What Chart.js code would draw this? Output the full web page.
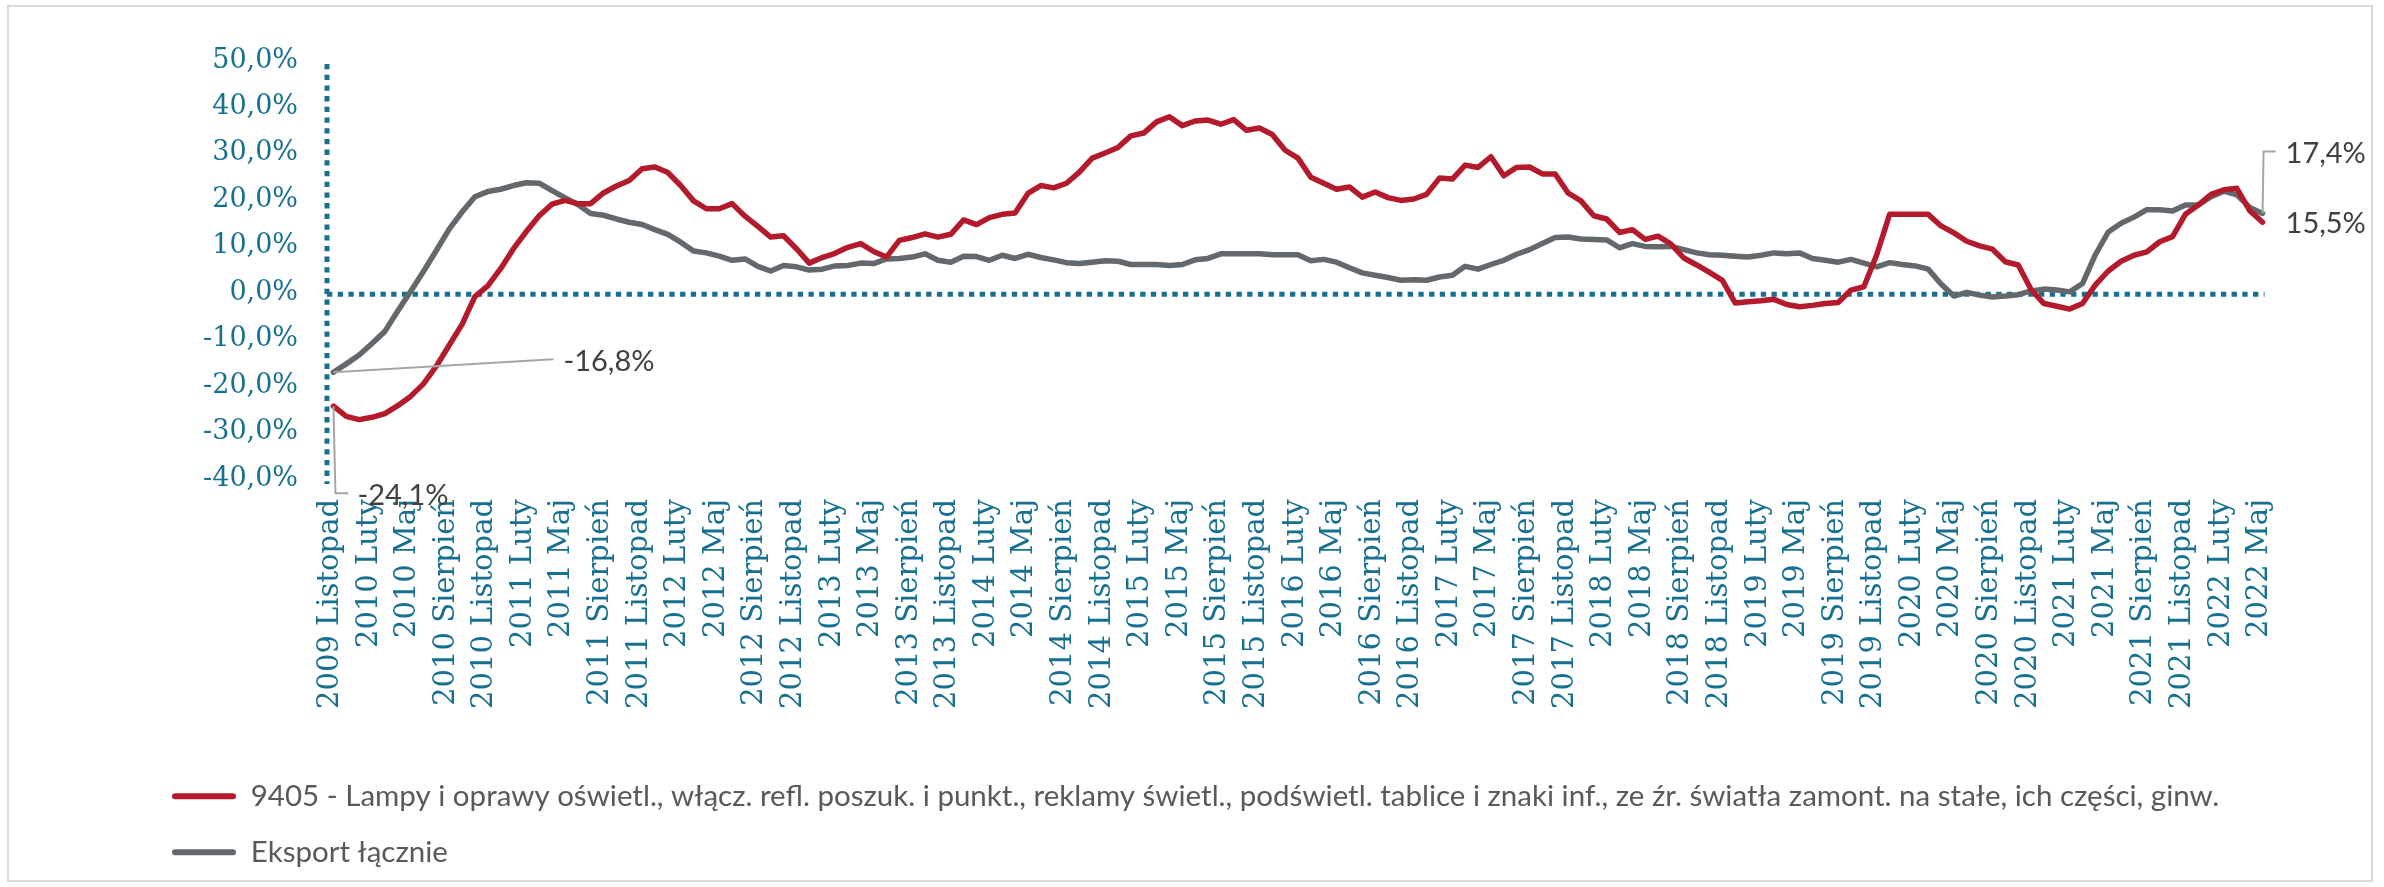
<!DOCTYPE html>
<html>
<head>
<meta charset="utf-8">
<script src="https://cdn.jsdelivr.net/npm/chart.js@4.4.1/dist/chart.umd.min.js"></script>
<style>
  html, body { margin: 0; padding: 0; background: #ffffff; }
  #wrap { position: relative; width: 2384px; height: 887px; overflow: hidden; }
  #frame { position: absolute; left: 7px; top: 5px; width: 2366px; height: 877px; box-sizing: border-box; border: 2px solid #d9d9d9; }
  #c { position: absolute; left: 0; top: 0; }
</style>
</head>
<body>
<div id="wrap">
  <div id="frame"></div>
  <canvas id="c" width="2384" height="887"></canvas>
</div>
<script>
// ---- data ----
const monthNames = ['Styczeń','Luty','Marzec','Kwiecień','Maj','Czerwiec','Lipiec','Sierpień','Wrzesień','Październik','Listopad','Grudzień'];
const startYear = 2009;
const startMonth = 10; // Listopad
const monthCount = 151;
const tickEvery = 3;

const seriesNames = [
  '9405 - Lampy i oprawy oświetl., włącz. refl. poszuk. i punkt., reklamy świetl., podświetl. tablice i znaki inf., ze źr. światła zamont. na stałe, ich części, ginw.',
  'Eksport łącznie'
];

const lampSeries = [
  -24.1, -26.3, -27.0, -26.5, -25.7, -24.0, -22.0, -19.3, -15.5, -11.0,
  -6.5, -0.5, 1.8, 5.5, 9.8, 13.5, 16.9, 19.4, 20.2, 19.5,
  19.5, 21.8, 23.3, 24.5, 27.0, 27.4, 26.2, 23.4, 20.1, 18.4,
  18.4, 19.5, 16.8, 14.6, 12.3, 12.6, 9.8, 6.7, 7.9, 8.8,
  10.1, 10.9, 9.2, 8.0, 11.6, 12.2, 13.0, 12.3, 12.9, 16.0,
  15.0, 16.5, 17.2, 17.5, 21.7, 23.4, 22.9, 23.9, 26.3, 29.3,
  30.4, 31.6, 34.1, 34.7, 37.1, 38.2, 36.3, 37.3, 37.5, 36.6,
  37.6, 35.3, 35.8, 34.4, 31.0, 29.3, 25.2, 23.9, 22.6, 23.1,
  20.9, 22.0, 20.8, 20.2, 20.5, 21.5, 25.0, 24.8, 27.8, 27.3,
  29.6, 25.5, 27.3, 27.4, 25.9, 25.9, 21.8, 20.1, 16.9, 16.2,
  13.3, 13.9, 11.8, 12.5, 10.8, 7.8, 6.3, 4.7, 3.0, -1.9,
  -1.6, -1.4, -1.1, -2.2, -2.7, -2.4, -2.0, -1.8, 0.9, 1.6,
  8.5, 17.2, 17.2, 17.2, 17.2, 14.7, 13.2, 11.4, 10.4, 9.7,
  7.0, 6.3, 1.0, -2.0, -2.6, -3.2, -2.0, 2.0, 5.0, 7.1,
  8.4, 9.1, 11.3, 12.4, 17.2, 19.2, 21.5, 22.5, 22.8, 18.0,
  15.5
];

const exportSeries = [
  -16.8, -15.0, -13.1, -10.6, -8.0, -3.6, 0.6, 4.9, 9.4, 14.0,
  17.7, 21.0, 22.1, 22.6, 23.4, 24.0, 23.9, 22.3, 20.8, 19.3,
  17.4, 17.0, 16.2, 15.5, 15.0, 13.9, 12.9, 11.2, 9.3, 8.9,
  8.2, 7.3, 7.6, 6.0, 5.0, 6.2, 5.9, 5.2, 5.4, 6.1,
  6.2, 6.7, 6.6, 7.6, 7.7, 8.0, 8.7, 7.3, 6.9, 8.2,
  8.1, 7.3, 8.4, 7.7, 8.6, 7.9, 7.4, 6.8, 6.6, 6.9,
  7.2, 7.1, 6.4, 6.4, 6.4, 6.2, 6.4, 7.4, 7.7, 8.7,
  8.7, 8.7, 8.7, 8.5, 8.5, 8.5, 7.2, 7.5, 6.9, 5.7,
  4.6, 4.1, 3.6, 3.0, 3.1, 3.0, 3.7, 4.1, 6.0, 5.4,
  6.4, 7.3, 8.6, 9.6, 10.9, 12.2, 12.3, 11.9, 11.8, 11.7,
  10.0, 10.9, 10.3, 10.2, 10.3, 9.6, 8.9, 8.5, 8.4, 8.2,
  8.0, 8.4, 8.9, 8.7, 8.9, 7.7, 7.3, 6.9, 7.5, 6.7,
  5.9, 6.8, 6.4, 6.1, 5.4, 2.2, -0.4, 0.4, -0.2, -0.6,
  -0.4, -0.1, 0.7, 1.1, 0.9, 0.5, 2.3, 8.5, 13.4, 15.3,
  16.6, 18.2, 18.2, 17.9, 19.2, 19.2, 21.0, 22.2, 21.4, 18.7,
  17.4
];

const yMin = -40, yMax = 50, yStep = 10;

// categories (one per month)
const categories = [];
for (let k = 0; k < monthCount; k++) {
  const m = startMonth + k;
  categories.push((startYear + Math.floor(m / 12)) + ' ' + monthNames[m % 12]);
}

// ---- styles ----
const TEAL = '#17708f';
const RED = '#b31b2c';
const GRAY = '#62686b';
const LEADER = '#a6a6a6';
const ANNOT = '#404040';

const fmt = v => v.toFixed(1).replace('.', ',') + '%';

const decor = {
  id: 'decor',
  beforeDatasetsDraw(chart) {
    const {ctx, chartArea: a, scales: {x, y}} = chart;
    ctx.save();
    ctx.strokeStyle = TEAL;
    ctx.lineWidth = 5;
    ctx.setLineDash([5.3, 5.4]);
    ctx.lineCap = 'butt';
    ctx.beginPath();
    ctx.moveTo(a.left, a.top + 2);
    ctx.lineTo(a.left, a.bottom + 4);
    ctx.stroke();
    const y0 = y.getPixelForValue(0);
    ctx.beginPath();
    ctx.moveTo(a.left, y0);
    ctx.lineTo(x.getPixelForValue(monthCount - 1) + 2, y0);
    ctx.stroke();
    ctx.restore();
  },
  afterDatasetsDraw(chart) {
    const {ctx, scales: {x, y}} = chart;
    const last = monthCount - 1;
    const rs = {x: x.getPixelForValue(0), y: y.getPixelForValue(lampSeries[0])};
    const gs = {x: x.getPixelForValue(0), y: y.getPixelForValue(exportSeries[0])};
    const re = {x: x.getPixelForValue(last), y: y.getPixelForValue(lampSeries[last])};
    const ge = {x: x.getPixelForValue(last), y: y.getPixelForValue(exportSeries[last])};
    ctx.save();
    ctx.strokeStyle = LEADER;
    ctx.lineWidth = 2;
    ctx.beginPath();
    ctx.moveTo(gs.x, gs.y); ctx.lineTo(gs.x + 220, gs.y - 13);
    ctx.moveTo(rs.x, rs.y); ctx.lineTo(rs.x + 2, rs.y + 87); ctx.lineTo(rs.x + 15, rs.y + 87);
    ctx.moveTo(ge.x, ge.y); ctx.lineTo(ge.x + 1, ge.y - 62); ctx.lineTo(ge.x + 13, ge.y - 62);
    ctx.stroke();
    ctx.fillStyle = ANNOT;
    ctx.font = '29px Lato';
    ctx.textBaseline = 'middle';
    ctx.textAlign = 'left';
    ctx.fillText(fmt(exportSeries[0]), gs.x + 230, gs.y - 11);
    ctx.fillText(fmt(lampSeries[0]), rs.x + 24, rs.y + 89);
    ctx.fillText(fmt(exportSeries[last]), ge.x + 23, ge.y - 60);
    ctx.fillText(fmt(lampSeries[last]), re.x + 23, re.y + 1);
    ctx.restore();
  }
};

new Chart(document.getElementById('c'), {
  type: 'line',
  data: {
    labels: categories,
    datasets: [
      { label: seriesNames[0], data: lampSeries, borderColor: RED, backgroundColor: RED,
        borderWidth: 5.5, pointRadius: 0, tension: 0, borderJoinStyle: 'round', borderCapStyle: 'round' },
      { label: seriesNames[1], data: exportSeries, borderColor: GRAY, backgroundColor: GRAY,
        borderWidth: 5.5, pointRadius: 0, tension: 0, borderJoinStyle: 'round', borderCapStyle: 'round' }
    ]
  },
  options: {
    responsive: false,
    devicePixelRatio: 1,
    animation: false,
    events: [],
    layout: { padding: { left: 145.5, right: 115, top: 62, bottom: 10 } },
    scales: {
      x: {
        type: 'category',
        offset: true,
        grid: { display: false, drawTicks: false },
        border: { display: false },
        afterFit(s) { s.height = 275; },
        ticks: {
          autoSkip: false, minRotation: 90, maxRotation: 90, padding: 19, labelOffset: -3,
          color: TEAL, font: { family: 'DejaVu Serif', size: 29 },
          callback(v, i) { return i % tickEvery === 0 ? categories[i] : ''; }
        }
      },
      y: {
        min: yMin, max: yMax,
        grid: { display: false, drawTicks: false },
        border: { display: false },
        afterFit(s) { s.width = 327 - 145.5; },
        ticks: {
          stepSize: yStep, padding: 29, labelOffset: -1.5,
          color: TEAL, font: { family: 'DejaVu Serif', size: 27 },
          callback(v) { return fmt(v); }
        }
      }
    },
    plugins: {
      tooltip: { enabled: false },
      legend: {
        position: 'bottom', align: 'start',
        labels: {
          boxWidth: 64, boxHeight: 6, padding: 26.5, color: '#595959',
          font: { family: 'Lato', size: 29.5 },
          generateLabels(chart) {
            const items = Chart.defaults.plugins.legend.labels.generateLabels(chart);
            items.forEach(it => { it.lineWidth = 0; it.fillStyle = it.strokeStyle; it.borderRadius = 3; });
            return items;
          }
        }
      }
    }
  },
  plugins: [decor]
});
</script>
</body>
</html>
